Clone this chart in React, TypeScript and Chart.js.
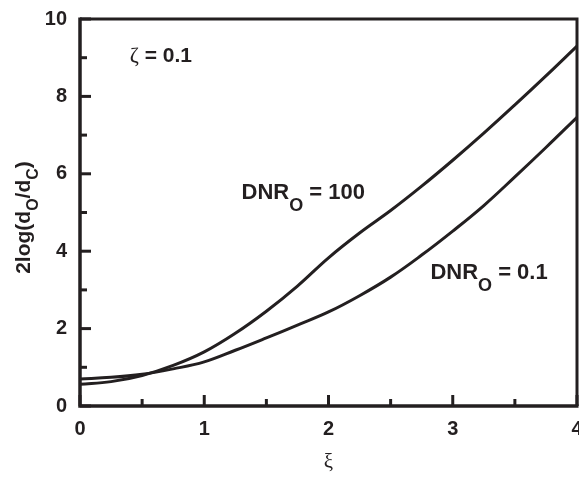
import React, { useEffect, useRef } from "react";
import { Chart, registerables } from "chart.js";

Chart.register(...registerables);

// ---- data ----
const xiValues = [0, 0.25, 0.5, 0.75, 1, 1.25, 1.5, 1.75, 2, 2.25, 2.5, 2.75, 3, 3.25, 3.5, 3.75, 4];
const dnr100 = [0.56, 0.63, 0.79, 1.05, 1.4, 1.88, 2.45, 3.1, 3.83, 4.47, 5.05, 5.68, 6.35, 7.05, 7.78, 8.53, 9.3];
const dnr01 = [0.7, 0.74, 0.82, 0.96, 1.14, 1.44, 1.76, 2.09, 2.43, 2.85, 3.33, 3.9, 4.52, 5.18, 5.92, 6.68, 7.46];
const xTickValues = [0, 1, 2, 3, 4];
const xMinorTicks = [0.5, 1.5, 2.5, 3.5];
const yTickValues = [0, 2, 4, 6, 8, 10];
const yMinorTicks = [1, 3, 5, 7, 9];
const zetaLabel = { greek: "ζ", rest: " = 0.1", x: 0.4, y: 8.89 };
const curveLabels = [
  { main: "DNR", sub: "O", rest: " = 100", x: 1.3, y: 5.34 },
  { main: "DNR", sub: "O", rest: " = 0.1", x: 2.82, y: 3.27 },
];

const INK = "#231f20";
const SANS = "'Liberation Sans', Arial, Helvetica, sans-serif";
const SERIF = "'Liberation Serif', 'DejaVu Serif', serif";

type Part = { text: string; font: string; dy?: number };

function drawParts(ctx: CanvasRenderingContext2D, parts: Part[], x: number, y: number) {
  let cx = x;
  for (const p of parts) {
    ctx.font = p.font;
    ctx.fillText(p.text, cx, y + (p.dy || 0));
    cx += ctx.measureText(p.text).width;
  }
  return cx - x;
}

function measureParts(ctx: CanvasRenderingContext2D, parts: Part[]) {
  let w = 0;
  for (const p of parts) {
    ctx.font = p.font;
    w += ctx.measureText(p.text).width;
  }
  return w;
}

const framePlugin = {
  id: "frameAndText",
  afterDatasetsDraw(chart: any) {
    const { ctx, chartArea, scales } = chart;
    const xs = scales.x;
    const ys = scales.y;
    const { left, right, top, bottom } = chartArea;
    ctx.save();
    ctx.strokeStyle = INK;
    ctx.fillStyle = INK;
    ctx.lineCap = "butt";

    // top & right border
    ctx.lineWidth = 3;
    ctx.beginPath();
    ctx.moveTo(left, top);
    ctx.lineTo(right, top);
    ctx.lineTo(right, bottom);
    ctx.stroke();

    // left & bottom axes
    ctx.lineWidth = 3.5;
    ctx.beginPath();
    ctx.moveTo(left, top - 1.5);
    ctx.lineTo(left, bottom);
    ctx.lineTo(right + 1.5, bottom);
    ctx.stroke();

    // ticks (inward)
    ctx.lineWidth = 3;
    for (const v of xTickValues) {
      const px = xs.getPixelForValue(v);
      ctx.beginPath();
      ctx.moveTo(px, bottom);
      ctx.lineTo(px, bottom - 11);
      ctx.stroke();
    }
    for (const v of xMinorTicks) {
      const px = xs.getPixelForValue(v);
      ctx.beginPath();
      ctx.moveTo(px, bottom);
      ctx.lineTo(px, bottom - 7);
      ctx.stroke();
    }
    for (const v of yTickValues) {
      const py = ys.getPixelForValue(v);
      ctx.beginPath();
      ctx.moveTo(left, py);
      ctx.lineTo(left + 11, py);
      ctx.stroke();
    }
    for (const v of yMinorTicks) {
      const py = ys.getPixelForValue(v);
      ctx.beginPath();
      ctx.moveTo(left, py);
      ctx.lineTo(left + 7, py);
      ctx.stroke();
    }

    ctx.textBaseline = "alphabetic";
    ctx.textAlign = "left";

    // zeta label
    drawParts(
      ctx,
      [
        { text: zetaLabel.greek, font: `normal 22px ${SERIF}` },
        { text: zetaLabel.rest, font: `bold 21px ${SANS}` },
      ],
      xs.getPixelForValue(zetaLabel.x),
      ys.getPixelForValue(zetaLabel.y)
    );

    // curve labels
    for (const lab of curveLabels) {
      drawParts(
        ctx,
        [
          { text: lab.main, font: `bold 22px ${SANS}` },
          { text: lab.sub, font: `bold 18px ${SANS}`, dy: 12 },
          { text: lab.rest, font: `bold 22px ${SANS}` },
        ],
        xs.getPixelForValue(lab.x),
        ys.getPixelForValue(lab.y)
      );
    }

    // x axis title
    ctx.font = `normal 21px ${SERIF}`;
    ctx.textAlign = "center";
    ctx.fillText("ξ", (left + right) / 2, 468);

    // y axis title (rotated)
    const yParts: Part[] = [
      { text: "2log(d", font: `bold 21px ${SANS}` },
      { text: "O", font: `bold 16px ${SANS}`, dy: 8 },
      { text: "/d", font: `bold 21px ${SANS}` },
      { text: "C", font: `bold 16px ${SANS}`, dy: 8 },
      { text: ")", font: `bold 21px ${SANS}` },
    ];
    ctx.textAlign = "left";
    const w = measureParts(ctx, yParts);
    ctx.translate(30, (top + bottom) / 2 + 5);
    ctx.rotate(-Math.PI / 2);
    drawParts(ctx, yParts, -w / 2, 0);

    ctx.restore();
  },
};

export default function App() {
  const canvasRef = useRef<HTMLCanvasElement | null>(null);

  useEffect(() => {
    const canvas = canvasRef.current;
    if (!canvas) return;
    const tickFont = { family: SANS, weight: "bold" as const, size: 20 };
    const chart = new Chart(canvas, {
      type: "line",
      data: {
        datasets: [
          {
            label: "DNR_O = 100",
            data: xiValues.map((x, i) => ({ x, y: dnr100[i] })),
            borderColor: INK,
            borderWidth: 3,
            pointRadius: 0,
            fill: false,
            tension: 0.4,
          },
          {
            label: "DNR_O = 0.1",
            data: xiValues.map((x, i) => ({ x, y: dnr01[i] })),
            borderColor: INK,
            borderWidth: 3,
            pointRadius: 0,
            fill: false,
            tension: 0.4,
          },
        ],
      },
      options: {
        responsive: false,
        animation: false,
        devicePixelRatio: 1,
        layout: { padding: { top: 19, right: 2, left: 0, bottom: 0 } },
        plugins: {
          legend: { display: false },
          tooltip: { enabled: false },
          title: { display: false },
        },
        scales: {
          x: {
            type: "linear",
            min: 0,
            max: 4,
            grid: { display: false, drawTicks: false },
            border: { display: false },
            afterBuildTicks: (s: any) => {
              s.ticks = xTickValues.map((v) => ({ value: v }));
            },
            afterFit: (s: any) => {
              s.height = 71;
              s.paddingLeft = 0;
              s.paddingRight = 0;
            },
            ticks: {
              font: tickFont,
              color: INK,
              padding: 11,
              maxRotation: 0,
              autoSkip: false,
            },
          },
          y: {
            type: "linear",
            min: 0,
            max: 10,
            grid: { display: false, drawTicks: false },
            border: { display: false },
            afterBuildTicks: (s: any) => {
              s.ticks = yTickValues.map((v) => ({ value: v }));
            },
            afterFit: (s: any) => {
              s.width = 80;
              s.paddingTop = 0;
              s.paddingBottom = 0;
            },
            ticks: {
              font: tickFont,
              color: INK,
              padding: 13,
              autoSkip: false,
            },
          },
        },
      },
      plugins: [framePlugin],
    });
    return () => chart.destroy();
  }, []);

  return (
    <div style={{ position: "absolute", left: 0, top: 0, width: 579, height: 477, background: "#fff" }}>
      <canvas ref={canvasRef} width={579} height={477} style={{ display: "block" }} />
    </div>
  );
}
